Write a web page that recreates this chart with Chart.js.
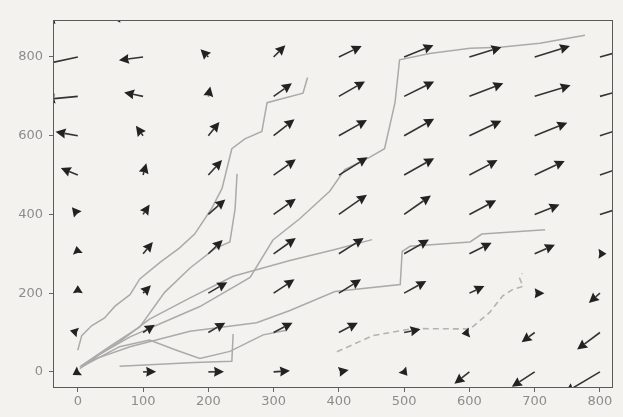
<!DOCTYPE html>
<html>
<head>
<meta charset="utf-8">
<script src="https://cdn.jsdelivr.net/npm/chart.js@4.4.0/dist/chart.umd.min.js"></script>
<style>
  html, body { margin: 0; padding: 0; background: #f3f2ee; }
  #wrap { width: 623px; height: 417px; }
</style>
</head>
<body>
<div id="wrap"><canvas id="chart" width="623" height="417"></canvas></div>
<script>
// quiver grid
const gridX = [0, 100, 200, 300, 400, 500, 600, 700, 800];
const gridY = [0, 100, 200, 300, 400, 500, 600, 700, 800, 900];

// arrow components, one row per gridY value (bottom row first)
const arrowU = [
  [-8, 20, 24, 25, 15, 5, -23, -35, -54],
  [-12, 18, 26, 29, 29, 25, -12, -20, -35],
  [0, 12, 29, 32, 34, 34, 23, 15, -17],
  [-2, 15, 22, 34, 38, 38, 34, 31, 10],
  [-9, 10, 26, 34, 43, 41, 41, 38, 42],
  [-26, 5, 21, 34, 44, 46, 43, 46, 48],
  [-34, -11, 17, 32, 43, 46, 49, 50, 52],
  [-50, -29, 3, 28, 40, 46, 52, 55, 55],
  [-55, -37, -12, 18, 35, 45, 49, 54, 55],
  [-50, -50, -15, 10, 30, 42, 48, 52, 55]
];
const arrowV = [
  [-8, 0, 0, 3, 5, -10, -30, -38, -53],
  [5, 20, 25, 25, 25, 8, -3, -25, -43],
  [20, 20, 28, 35, 35, 31, 18, 0, -25],
  [20, 30, 35, 40, 40, 36, 28, 23, 0],
  [18, 25, 38, 40, 50, 48, 36, 25, 22],
  [18, 30, 38, 40, 45, 43, 38, 36, 28],
  [10, 25, 35, 42, 40, 43, 38, 33, 28],
  [-8, 10, 25, 33, 38, 38, 33, 28, 25],
  [-20, -8, 20, 30, 28, 30, 25, 28, 25],
  [-5, 0, 20, 30, 28, 28, 24, 25, 22]
];

// walked paths, [x, y]
const pathA = [[0, 55], [6, 92], [21, 117], [41, 137], [57, 167], [80, 196], [95, 236], [126, 278],
  [156, 315], [179, 350], [205, 415], [221, 466], [236, 567], [256, 592], [282, 611], [290, 684],
  [345, 708], [352, 748]];
const pathB = [[3, 8], [34, 45], [80, 89], [141, 133], [187, 166], [264, 240], [299, 335], [340, 389],
  [386, 459], [409, 514], [447, 545], [470, 567], [486, 684], [493, 793], [539, 809], [601, 822],
  [647, 825], [708, 835], [777, 855]];
const pathC = [[3, 13], [49, 65], [95, 114], [133, 202], [172, 264], [210, 313], [233, 330],
  [241, 414], [244, 503]];
const pathD = [[6, 16], [64, 77], [110, 134], [172, 188], [238, 243], [325, 283], [394, 311], [451, 336]];
const pathE = [[18, 28], [80, 64], [172, 103], [274, 125], [325, 156], [394, 204], [494, 222],
  [497, 306], [509, 319], [601, 330], [619, 350], [716, 361]];
const pathF = [[6, 13], [64, 64], [110, 81], [149, 56], [187, 34], [233, 52], [284, 94], [318, 105]];
const pathG = [[64, 14], [179, 24], [236, 27], [238, 96]];
const pathDashed = [[397, 51], [452, 92], [513, 110], [601, 109], [631, 151], [651, 193], [667, 210],
  [682, 217], [677, 238], [681, 250]];

const xTicks = [0, 100, 200, 300, 400, 500, 600, 700, 800];
const yTicks = [0, 200, 400, 600, 800];

const toPoints = p => p.map(([x, y]) => ({ x, y }));

function solid(p) {
  return { data: toPoints(p), showLine: true, borderColor: '#aaaaaa', borderWidth: 1.5, pointRadius: 0, tension: 0 };
}

function drawArrow(ctx, x0, y0, x1, y1) {
  const dx = x1 - x0, dy = y1 - y0;
  const len = Math.hypot(dx, dy);
  if (len < 0.5) return;
  const ux = dx / len, uy = dy / len, nx = -uy, ny = ux;
  const hl = Math.min(10, Math.max(len, 8));
  const hw = 5;
  const bx = x1 - ux * hl, by = y1 - uy * hl;
  const kx = x1 - ux * hl * 0.9, ky = y1 - uy * hl * 0.9;
  if (len > hl) {
    ctx.beginPath();
    ctx.moveTo(x0, y0);
    ctx.lineTo(kx, ky);
    ctx.stroke();
  }
  ctx.beginPath();
  ctx.moveTo(x1, y1);
  ctx.lineTo(bx + nx * hw, by + ny * hw);
  ctx.lineTo(kx, ky);
  ctx.lineTo(bx - nx * hw, by - ny * hw);
  ctx.closePath();
  ctx.fill();
}

const quiverPlugin = {
  id: 'quiver',
  afterDatasetsDraw(chart) {
    const { ctx, chartArea: a, scales: { x, y } } = chart;
    ctx.save();
    ctx.beginPath();
    ctx.rect(a.left, a.top, a.right - a.left, a.bottom - a.top);
    ctx.clip();
    ctx.fillStyle = '#222222';
    ctx.strokeStyle = '#333333';
    ctx.lineWidth = 1.6;
    gridY.forEach((gy, r) => {
      gridX.forEach((gx, c) => {
        drawArrow(ctx,
          x.getPixelForValue(gx), y.getPixelForValue(gy),
          x.getPixelForValue(gx + arrowU[r][c]), y.getPixelForValue(gy + arrowV[r][c]));
      });
    });
    ctx.restore();

    // axes box
    ctx.save();
    ctx.strokeStyle = '#5a5a5a';
    ctx.lineWidth = 1;
    ctx.strokeRect(a.left + 0.5, a.top + 0.5, a.right - a.left - 1, a.bottom - a.top - 1);
    ctx.restore();
  }
};

const tickFont = { family: 'DejaVu Sans', size: 13 };

new Chart(document.getElementById('chart'), {
  type: 'scatter',
  data: {
    datasets: [
      solid(pathA), solid(pathB), solid(pathC), solid(pathD),
      solid(pathE), solid(pathF), solid(pathG),
      {
        data: toPoints(pathDashed), showLine: true, borderColor: '#b3b3b3', borderWidth: 1.6,
        borderDash: [6, 4], pointRadius: 0, tension: 0
      }
    ]
  },
  options: {
    responsive: false,
    animation: false,
    layout: { padding: { top: 20, right: 10, left: 0, bottom: 0 } },
    plugins: { legend: { display: false }, tooltip: { enabled: false } },
    scales: {
      x: {
        type: 'linear', min: -38, max: 820,
        afterBuildTicks: s => { s.ticks = xTicks.map(v => ({ value: v })); },
        afterFit: s => { s.height = 29; },
        grid: { display: true, drawOnChartArea: false, drawTicks: true, tickLength: 4, color: '#666' },
        border: { display: false },
        ticks: { color: '#8c8c8c', font: tickFont, padding: 2, maxRotation: 0 }
      },
      y: {
        type: 'linear', min: -41, max: 894,
        afterBuildTicks: s => { s.ticks = yTicks.map(v => ({ value: v })); },
        afterFit: s => { s.width = 53; },
        grid: { display: true, drawOnChartArea: false, drawTicks: true, tickLength: 4, color: '#666' },
        border: { display: false },
        ticks: { color: '#8c8c8c', font: tickFont, padding: 6 }
      }
    }
  },
  plugins: [quiverPlugin]
});
</script>
</body>
</html>
